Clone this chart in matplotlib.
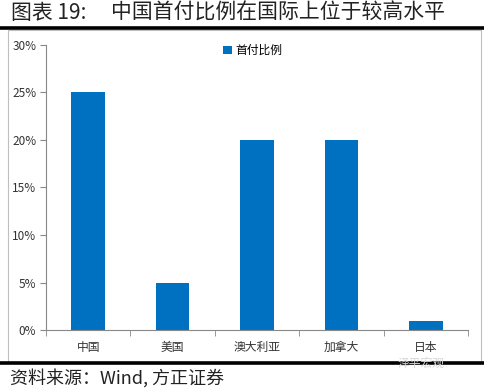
import matplotlib
matplotlib.use("Agg")
import matplotlib.pyplot as plt
from matplotlib.patches import Rectangle
from matplotlib.lines import Line2D

plt.rcParams['font.family'] = ['Noto Sans CJK SC', 'DejaVu Sans']

categories = ["中国", "美国", "澳大利亚", "加拿大", "日本"]
values = [25, 5, 20, 20, 1]
series_name = "首付比例"
yticks = [0, 5, 10, 15, 20, 25, 30]
ytick_labels = ["0%", "5%", "10%", "15%", "20%", "25%", "30%"]

W, H = 484, 388
fig = plt.figure(figsize=(W / 100, H / 100), dpi=100)

# frame box
fig.patches.append(Rectangle((8 / W, (H - 362) / H), (481 - 8) / W, (362 - 30) / H,
                             transform=fig.transFigure, fill=False,
                             edgecolor="#BFBFBF", linewidth=0.8))
# thick black rules
fig.add_artist(Line2D([0, 1], [(H - 28) / H] * 2, transform=fig.transFigure,
                      color="black", linewidth=2.6))
fig.add_artist(Line2D([0, 1], [(H - 363) / H] * 2, transform=fig.transFigure,
                      color="black", linewidth=2.6))

fig.text(11 / W, (H - 13) / H, "图表 19:", fontsize=15, va="center",
         ha="left", color="#222222", fontweight="light")
fig.text(111 / W, (H - 13) / H, "中国首付比例在国际上位于较高水平",
         fontsize=15, va="center", ha="left", color="#222222", fontweight="light")
fig.text(10 / W, (H - 378) / H, "资料来源：Wind, 方正证券",
         fontsize=13, va="center", ha="left", style="italic", color="#222222")
fig.text(398 / W, (H - 363) / H, "泽平宏观", fontsize=8.5, va="center",
         ha="left", color="#D8D8D8")

ax = fig.add_axes([46 / W, (H - 330) / H, (468 - 46) / W, (330 - 45) / H])
x = list(range(len(categories)))
ax.bar(x, values, width=0.4, color="#0070C0", label=series_name, zorder=2)
ax.set_xlim(-0.5, len(categories) - 0.5)
ax.set_ylim(0, 30)
ax.set_yticks(yticks)
ax.set_yticklabels(ytick_labels, fontsize=8.5, color="#333333")
ax.set_xticks(x)
ax.set_xticklabels(categories, fontsize=8.5, color="#333333")
ax.tick_params(axis="x", length=0, pad=8)
ax.tick_params(axis="y", length=4, color="#888888", pad=3)
ax.set_xticks([i + 0.5 for i in range(-1, len(categories))], minor=True)
ax.tick_params(axis="x", which="minor", length=4, color="#888888", direction="out")
for s in ["top", "right"]:
    ax.spines[s].set_visible(False)
for s in ["left", "bottom"]:
    ax.spines[s].set_color("#888888")
    ax.spines[s].set_linewidth(0.8)

ax.legend(loc="upper center", bbox_to_anchor=(0.49, 1.04), frameon=False,
          fontsize=8.5, handlelength=0.7, handleheight=0.7, handletextpad=0.3)

fig.savefig("out.png", dpi=100)
